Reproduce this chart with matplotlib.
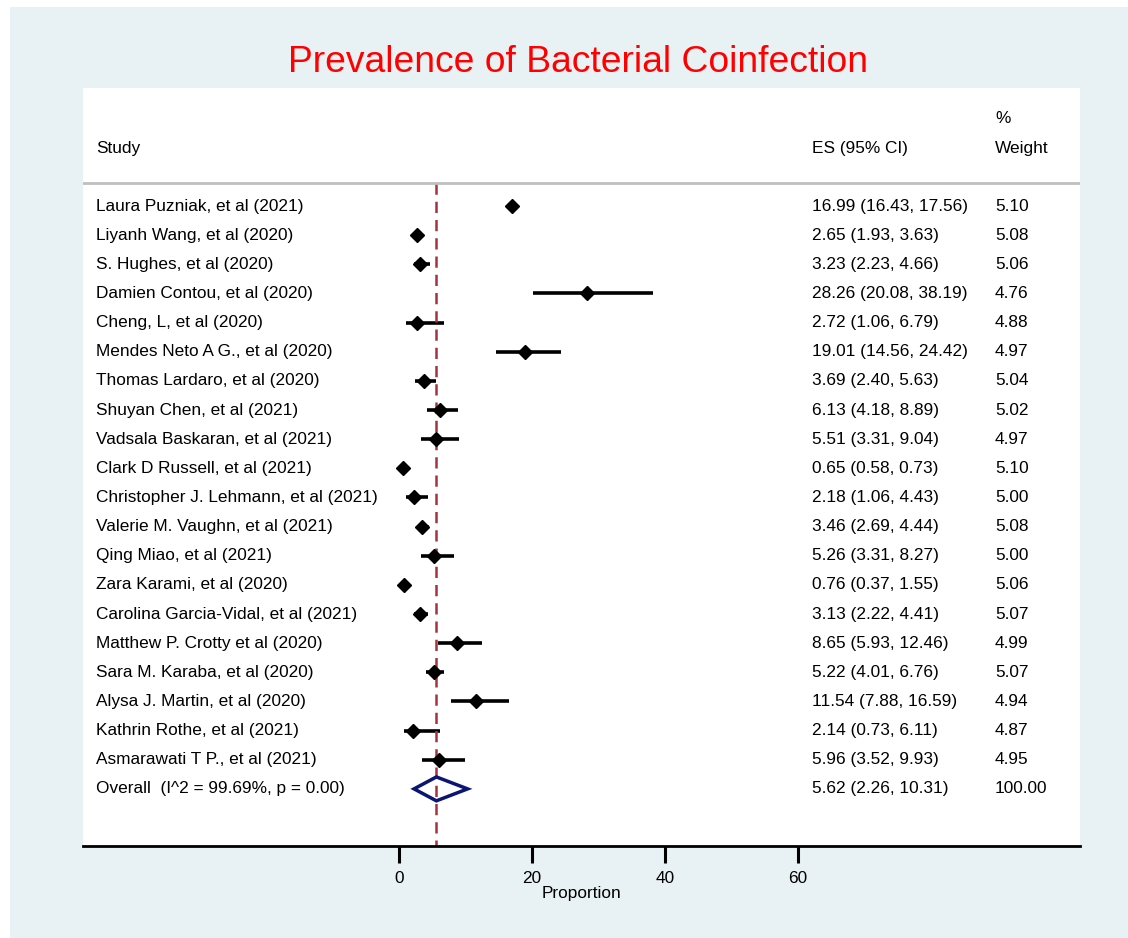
import matplotlib.pyplot as plt
from matplotlib.patches import Rectangle, Polygon

studies = [
    "Laura Puzniak, et al (2021)",
    "Liyanh Wang, et al (2020)",
    "S. Hughes, et al (2020)",
    "Damien Contou, et al (2020)",
    "Cheng, L, et al (2020)",
    "Mendes Neto A G., et al (2020)",
    "Thomas Lardaro, et al (2020)",
    "Shuyan Chen, et al (2021)",
    "Vadsala Baskaran, et al (2021)",
    "Clark D Russell, et al (2021)",
    "Christopher J. Lehmann, et al (2021)",
    "Valerie M. Vaughn, et al (2021)",
    "Qing Miao, et al (2021)",
    "Zara Karami, et al (2020)",
    "Carolina Garcia-Vidal, et al (2021)",
    "Matthew P. Crotty et al (2020)",
    "Sara M. Karaba, et al (2020)",
    "Alysa J. Martin, et al (2020)",
    "Kathrin Rothe, et al (2021)",
    "Asmarawati T P., et al (2021)",
]
es = [16.99, 2.65, 3.23, 28.26, 2.72, 19.01, 3.69, 6.13, 5.51, 0.65,
      2.18, 3.46, 5.26, 0.76, 3.13, 8.65, 5.22, 11.54, 2.14, 5.96]
lo = [16.43, 1.93, 2.23, 20.08, 1.06, 14.56, 2.40, 4.18, 3.31, 0.58,
      1.06, 2.69, 3.31, 0.37, 2.22, 5.93, 4.01, 7.88, 0.73, 3.52]
hi = [17.56, 3.63, 4.66, 38.19, 6.79, 24.42, 5.63, 8.89, 9.04, 0.73,
      4.43, 4.44, 8.27, 1.55, 4.41, 12.46, 6.76, 16.59, 6.11, 9.93]
weights = [5.10, 5.08, 5.06, 4.76, 4.88, 4.97, 5.04, 5.02, 4.97, 5.10,
           5.00, 5.08, 5.00, 5.06, 5.07, 4.99, 5.07, 4.94, 4.87, 4.95]

overall_label = "Overall  (I^2 = 99.69%, p = 0.00)"
overall_es, overall_lo, overall_hi, overall_w = 5.62, 2.26, 10.31, 100.00

xticks = [0, 20, 40, 60]

W, H = 1128, 938
fig = plt.figure(figsize=(W / 100, H / 100), dpi=100, facecolor="white")
plt.rcParams["font.family"] = ["Liberation Sans", "DejaVu Sans"]
fs = 12.4

# light outer panel
fig.patches.append(Rectangle((10 / W, 0), 1, 1 - 7 / H, transform=fig.transFigure,
                             facecolor="#e8f1f3", edgecolor="none", zorder=-5))

# white plot region: x 83..1080, y 88..846 (pixels)
ax = fig.add_axes([83 / W, 1 - 846 / H, (1080 - 83) / W, (846 - 88) / H])
ax.set_facecolor("white")
ax.set_xlim(-47.52, 102.4)
ax.set_ylim(21.96, -4.05)
for s in ["top", "left", "right"]:
    ax.spines[s].set_visible(False)
ax.spines["bottom"].set_linewidth(2)
ax.set_yticks([])
ax.set_xticks(xticks)
ax.tick_params(axis="x", direction="out", length=12, width=2.2, labelsize=fs, pad=6)
ax.set_xlabel("Proportion", fontsize=fs)
ax.xaxis.set_label_coords((27.4 + 47.52) / (102.4 + 47.52), -0.053)

fig.text(578 / W, 1 - 63 / H, "Prevalence of Bacterial Coinfection",
         color="red", fontsize=26.8, ha="center", va="center")

rows = list(range(len(studies)))
overall_row = len(studies)

# CI lines and point estimates
ax.hlines(rows, lo, hi, color="black", lw=2.6)
ax.plot(es, rows, "D", color="black", markersize=6.8, zorder=3)

# overall diamond
dh = 0.41
ax.add_patch(Polygon([(overall_lo, overall_row), (overall_es, overall_row - dh),
                      (overall_hi, overall_row), (overall_es, overall_row + dh)],
                     closed=True, facecolor="none", edgecolor="#0b1573", lw=2.5, zorder=3))

# reference line at overall estimate
ax.plot([overall_es, overall_es], [-0.79, 21.96], color="#a3343e", lw=1.8,
        linestyle=(0, (4.5, 2.8)), zorder=2)

# header separator
ax.axhline(-0.79, color="#c0c0c0", lw=2)

# x in axes fraction, y in data rows
xs, xe, xw = 0.013, 0.731, 0.9147
tkw = dict(fontsize=fs, va="center", transform=ax.get_yaxis_transform())
ax.text(xs, -1.99, "Study", **tkw)
ax.text(xe, -1.99, "ES (95% CI)", **tkw)
ax.text(xw, -1.99, "Weight", **tkw)
ax.text(xw, -3.02, "%", **tkw)

for i, name in enumerate(studies):
    ax.text(xs, i, name, **tkw)
    ax.text(xe, i, f"{es[i]:.2f} ({lo[i]:.2f}, {hi[i]:.2f})", **tkw)
    ax.text(xw, i, f"{weights[i]:.2f}", **tkw)
ax.text(xs, overall_row, overall_label, **tkw)
ax.text(xe, overall_row, f"{overall_es:.2f} ({overall_lo:.2f}, {overall_hi:.2f})", **tkw)
ax.text(xw, overall_row, f"{overall_w:.2f}", **tkw)

fig.savefig("out.png", dpi=100, facecolor="white")
